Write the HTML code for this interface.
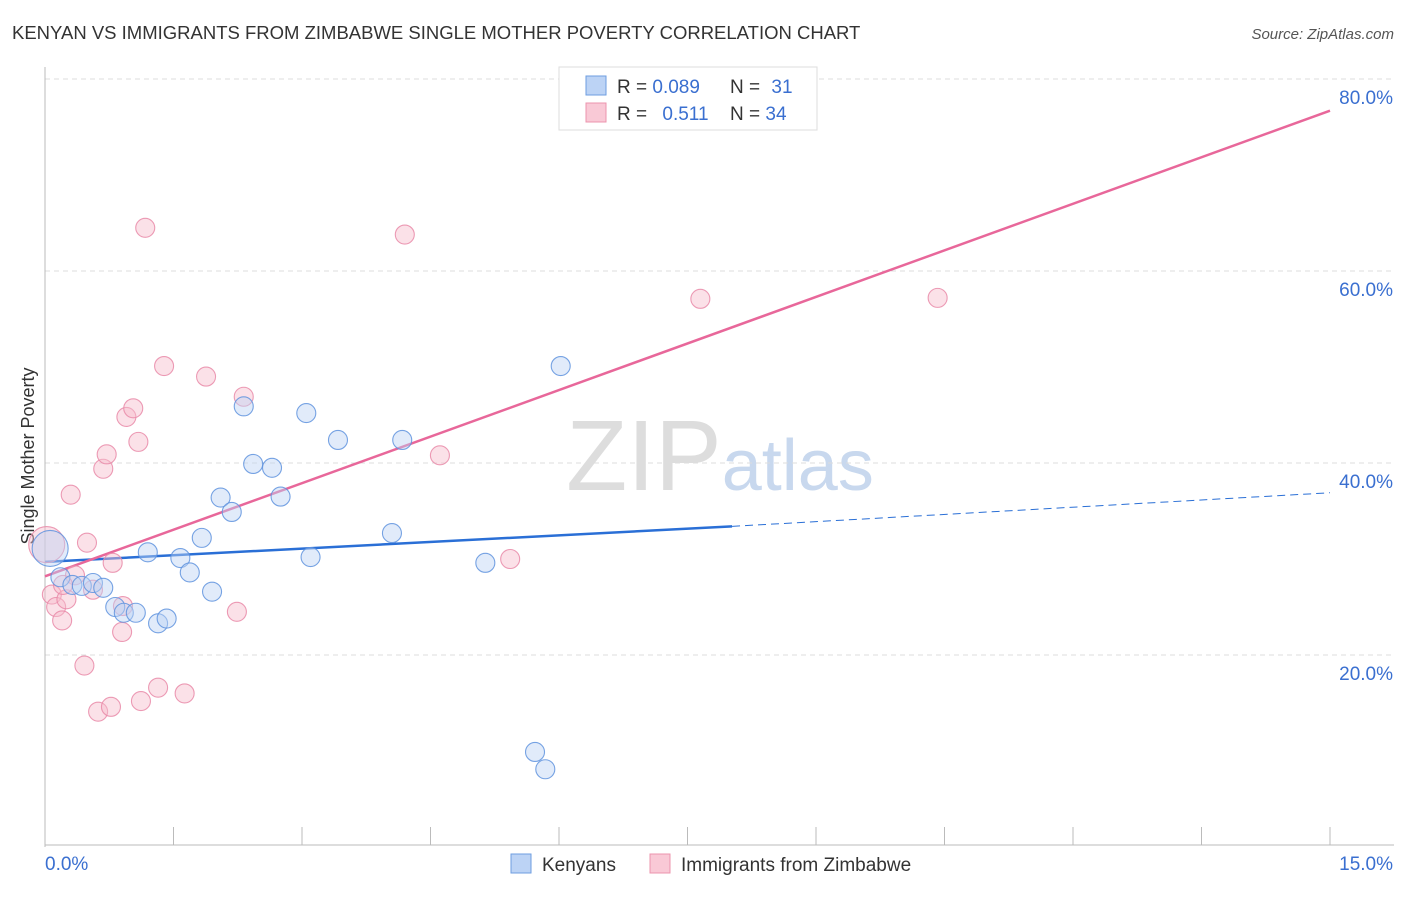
<!DOCTYPE html>
<html><head><meta charset="utf-8"><style>
body{margin:0;background:#fff;font-family:"Liberation Sans",sans-serif;}
svg text{font-family:"Liberation Sans",sans-serif;}
</style></head><body>
<svg id="c" width="1406" height="892" xmlns="http://www.w3.org/2000/svg">
<text x="12" y="39" font-size="18.5" fill="#333">KENYAN VS IMMIGRANTS FROM ZIMBABWE SINGLE MOTHER POVERTY CORRELATION CHART</text>
<text x="1394" y="39" font-size="15" fill="#555" text-anchor="end" font-style="italic">Source: ZipAtlas.com</text>
<text x="720" y="490" font-size="100" text-anchor="middle" fill="#ddd" font-family="Liberation Serif">ZIP<tspan fill="#c8d8ee" font-family="Liberation Sans" font-size="72">atlas</tspan></text>
<text transform="translate(34,456) rotate(-90)" font-size="18" fill="#333" text-anchor="middle">Single Mother Poverty</text>
<g id="grid"></g><g id="axes"></g><g id="lines"></g><g id="pts"></g>
<g>
<rect x="559" y="67" width="258" height="63" fill="#fff" stroke="#ddd"/>
<rect x="586" y="76" width="20" height="19" fill="#bcd3f5" stroke="#6e9ee0"/>
<rect x="586" y="103" width="20" height="19" fill="#f9c9d6" stroke="#ec94ae"/>
<text x="617" y="93" font-size="19" fill="#333">R = <tspan fill="#3a6fd0">0.089</tspan></text>
<text x="730" y="93" font-size="19" fill="#333">N = <tspan fill="#3a6fd0" dx="6">31</tspan></text>
<text x="617" y="120" font-size="19" fill="#333">R = <tspan fill="#3a6fd0" dx="10">0.511</tspan></text>
<text x="730" y="120" font-size="19" fill="#333">N = <tspan fill="#3a6fd0">34</tspan></text>
</g>
<g>
<rect x="511" y="854" width="20" height="19" fill="#bcd3f5" stroke="#6e9ee0"/>
<text x="542" y="871" font-size="19" fill="#333">Kenyans</text>
<rect x="650" y="854" width="20" height="19" fill="#f9c9d6" stroke="#ec94ae"/>
<text x="681" y="871" font-size="19" fill="#333">Immigrants from Zimbabwe</text>
</g>
</svg>
<script>
const xTicks=[0,15];
const yTicks=[20,40,60,80];
const kenX=[0.06,0.18,0.32,0.43,0.56,0.68,0.82,0.92,1.06,1.20,1.32,1.42,1.58,1.69,1.83,1.95,2.05,2.18,2.32,2.43,2.65,2.75,3.05,3.10,3.42,4.05,4.17,5.14,6.02,5.72,5.84];
const kenY=[31.1,28.1,27.3,27.2,27.5,27.0,25.0,24.4,24.4,30.7,23.3,23.8,30.1,28.6,32.2,26.6,36.4,34.9,45.9,39.9,39.5,36.5,45.2,30.2,42.4,32.7,42.4,29.6,50.1,9.9,8.1];
const zimX=[0.02,0.08,0.13,0.20,0.25,0.30,0.35,0.21,0.46,0.49,0.56,0.62,0.68,0.72,0.77,0.79,0.91,0.90,0.95,1.03,1.09,1.12,1.17,1.32,1.39,1.63,1.88,2.24,2.32,4.20,4.61,5.43,7.65,10.42];
const zimY=[31.5,26.3,25.0,23.6,25.8,36.7,28.3,27.3,18.9,31.7,26.8,14.1,39.4,40.9,14.6,29.6,25.1,22.4,44.8,45.7,42.2,15.2,64.5,16.6,50.1,16.0,49.0,24.5,46.9,63.8,40.8,30.0,57.1,57.2];
const kenTrend=[29.7,33.4,36.9]; const kenTrendX=[0,8.02,15];
const zimTrend=[28.2,76.7]; const zimTrendX=[0,15];
const X=v=>45+v/15*1285, Y=v=>847-v*9.6;
const NS='http://www.w3.org/2000/svg';
function mk(p,t,a){const e=document.createElementNS(NS,t);for(const k in a)e.setAttribute(k,a[k]);document.getElementById(p).appendChild(e);return e;}
yTicks.forEach(t=>{
 const l=mk('grid','line',{x1:45,x2:1394,y1:Y(t),y2:Y(t),stroke:'#ddd','stroke-dasharray':'5,4'});
 
 
 const tx=mk('grid','text',{x:1393,y:Y(t)+25,'font-size':19,fill:'#3a6fd0','text-anchor':'end'});tx.textContent=t.toFixed(1)+'%';
 
 
});
const ya=mk('axes','line',{x1:45,x2:45,y1:67,y2:847,stroke:'#bbb'});


const xa=mk('axes','line',{x1:45,x2:1394,y1:845,y2:845,stroke:'#bbb'});


for(let i=1;i<=10;i++){const tk=mk('axes','line',{x1:X(i*1.5),x2:X(i*1.5),y1:827,y2:845,stroke:'#bbb'});
 
 }
xTicks.forEach((t,i)=>{const tx=mk('axes','text',{x:i?1393:45,y:870,'font-size':19,fill:'#3a6fd0','text-anchor':i?'end':'start'});tx.textContent=t.toFixed(1)+'%';
 
 });
const bl=mk('lines','line',{x1:X(kenTrendX[0]),y1:Y(kenTrend[0]),x2:X(kenTrendX[1]),y2:Y(kenTrend[1]),stroke:'#2a6fd6','stroke-width':2.5});


const bd=mk('lines','line',{x1:X(kenTrendX[1]),y1:Y(kenTrend[1]),x2:X(kenTrendX[2]),y2:Y(kenTrend[2]),stroke:'#2a6fd6','stroke-width':1,'stroke-dasharray':'8,5'});


const pl=mk('lines','line',{x1:X(zimTrendX[0]),y1:Y(zimTrend[0]),x2:X(zimTrendX[1]),y2:Y(zimTrend[1]),stroke:'#e8679a','stroke-width':2.5});


function pts(xs,ys,f,s,n){xs.forEach((x,i)=>{const c=mk('pts','circle',{cx:X(x),cy:Y(ys[i]),r:i==0?18:9.5,fill:f,'fill-opacity':0.45,stroke:s,'stroke-width':1.1,'stroke-opacity':0.85});
 
 });}
pts(zimX,zimY,'#f7bccd','#e98aa8','zimbabwe-point');
pts(kenX,kenY,'#bcd3f5','#5f93de','kenyan-point');
</script>
</body></html>
